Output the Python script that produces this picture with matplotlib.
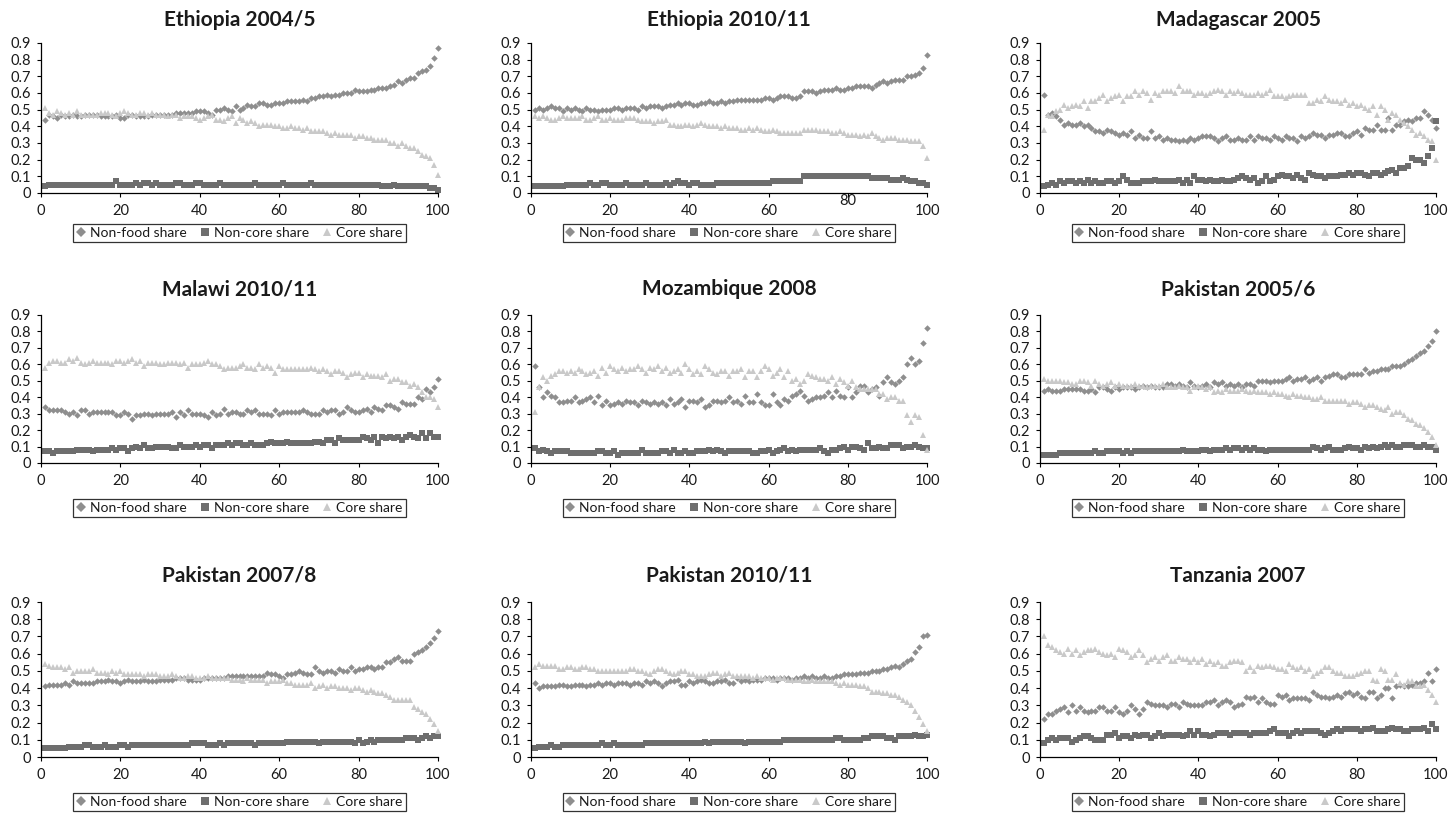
import numpy as np
import matplotlib
matplotlib.use("Agg")
import matplotlib.pyplot as plt
import matplotlib.transforms as mtransforms
from matplotlib.ticker import FuncFormatter, MultipleLocator

plt.rcParams['font.family'] = ['Lato', 'DejaVu Sans']

# expenditure shares (in %) by percentile 1..100
percentile = np.arange(1, 101)

eth04_nonfood = [44,47,46,45,47,46,46,47,46,46, 47,47,47,47,46,46,46,46,47,45,
                 45,47,47,46,46,46,46,47,47,47, 47,47,47,48,48,48,48,48,49,49,
                 49,48,47,50,50,51,50,49,52,50, 51,53,52,52,54,54,53,53,54,54,
                 54,55,55,55,55,56,55,57,57,58, 58,59,58,59,59,60,60,60,62,61,
                 61,61,62,62,63,63,63,64,65,67, 66,68,69,69,72,73,74,76,81,87]
eth04_noncore = [4,5,5,5,5,5,5,5,5,5, 5,5,5,5,5,5,5,5,7,5,
                 5,5,5,6,5,6,6,5,6,5, 5,5,5,6,6,5,5,5,6,6,
                 5,5,5,5,6,5,5,5,5,5, 5,5,5,6,5,5,5,5,5,5,
                 6,5,5,5,5,5,5,6,5,5, 5,5,5,5,5,5,5,5,5,5,
                 5,5,5,5,5,4,4,4,5,4, 4,4,4,4,4,4,4,3,3,2]
eth04_core = [51,48,47,49,48,47,48,47,49,47, 47,47,47,47,48,48,48,47,46,48,
              49,48,47,47,48,48,47,48,47,47, 47,46,47,47,45,46,46,46,45,44,
              45,46,47,44,44,43,45,46,42,45, 44,42,43,42,40,41,41,41,40,40,
              39,39,40,39,39,38,39,37,37,37, 37,36,35,36,35,35,35,35,33,34,
              34,33,33,32,32,32,32,30,30,28, 30,28,27,27,25,23,22,21,17,11]

eth10_nonfood = [50,51,50,51,52,51,51,49,51,50, 51,50,49,51,50,50,49,50,50,50,
                 51,51,50,51,51,51,50,52,51,52, 52,52,51,52,53,53,54,53,54,54,
                 53,53,54,54,55,54,54,55,54,55, 55,56,56,56,56,56,56,56,57,57,
                 56,57,58,58,58,57,57,58,61,61, 61,60,61,62,62,62,63,62,62,63,
                 63,64,64,64,64,63,65,66,67,66, 67,68,68,68,70,70,71,72,75,83]
eth10_noncore = [4,4,4,4,4,4,4,4,5,5, 5,5,5,5,6,5,5,6,6,5,
                 5,5,5,6,5,5,5,5,6,5, 5,5,5,6,5,6,7,6,6,5,
                 6,6,5,5,5,5,6,6,6,6, 6,6,6,6,6,6,6,6,6,6,
                 7,7,7,7,7,7,7,7,10,10, 10,10,10,10,10,10,10,10,10,10,
                 10,10,10,10,10,9,9,9,9,9, 8,8,8,9,8,7,7,6,6,5]
eth10_core = [46,45,46,45,44,44,45,46,45,45, 45,45,46,44,44,45,46,44,44,45,
              44,44,44,45,45,45,44,43,43,43, 42,43,43,44,41,41,40,40,41,41,
              40,41,42,41,40,40,40,39,40,39, 39,39,38,38,39,38,39,38,37,37,
              38,37,36,36,36,36,36,36,38,38, 38,38,37,37,37,36,36,37,36,35,
              35,35,34,35,34,36,34,33,32,33, 33,33,32,32,32,31,31,31,28,21]

mad05_nonfood = [59,47,48,46,44,41,42,41,41,42, 40,41,39,37,37,36,38,37,36,35,
                 36,35,37,33,35,33,33,37,33,34, 32,33,32,32,31,32,31,33,32,33,
                 34,34,34,33,31,33,34,32,32,33, 32,32,34,32,34,33,33,32,34,33,
                 32,34,33,33,31,34,33,34,36,35, 35,33,35,35,36,36,34,34,36,37,
                 35,39,38,38,41,38,38,45,38,41, 41,43,44,43,45,45,49,47,44,39]
mad05_noncore = [4,5,6,5,7,6,7,7,6,7, 6,8,6,7,6,6,7,7,6,7,
                 10,8,6,6,6,7,7,7,8,7, 7,7,7,7,8,6,8,6,10,8,
                 8,7,8,7,7,8,7,7,8,9, 10,9,8,9,6,7,10,7,8,10,
                 11,10,10,9,11,9,8,12,11,10, 10,9,10,10,10,11,11,12,11,12,
                 12,11,10,12,12,11,12,13,14,12, 15,15,16,21,20,20,18,22,27,43]
mad05_core = [38,47,46,49,50,53,51,52,53,52, 55,51,55,55,57,59,55,57,58,59,
              55,58,58,61,59,61,60,56,60,59, 61,61,61,60,64,61,61,61,59,60,
              60,59,60,61,62,61,59,61,60,61, 60,59,59,59,60,59,60,62,58,58,
              58,57,58,59,59,59,59,54,54,56, 55,58,56,55,55,54,56,53,54,52,
              53,51,50,52,47,52,50,44,48,47, 44,42,40,38,35,36,34,32,31,20]

mal10_nonfood = [34,32,32,32,32,31,30,31,29,32, 32,30,31,31,31,31,31,31,29,29,
                 31,30,27,29,29,30,30,29,30,30, 30,30,31,28,31,29,32,30,30,30,
                 29,28,31,29,30,33,30,31,31,30, 30,32,31,32,30,30,30,29,32,30,
                 31,31,31,31,31,32,31,30,30,30, 32,31,32,32,30,31,34,32,31,31,
                 32,33,31,34,33,32,35,35,34,33, 37,36,36,36,40,39,45,43,46,51]
mal10_noncore = [7,7,6,7,7,7,7,7,8,8, 8,8,7,8,8,8,8,9,8,9,
                 9,7,9,10,9,11,9,9,10,10, 10,10,9,9,11,10,10,10,11,10,
                 11,11,9,11,11,11,12,11,12,12, 11,11,12,11,11,11,12,13,12,12,
                 12,13,12,12,12,12,12,12,13,13, 12,14,14,12,15,14,14,14,14,14,
                 16,15,14,16,12,16,15,16,15,16, 14,16,17,16,15,18,15,18,16,16]
mal10_core = [58,61,62,62,61,61,63,62,64,61, 60,61,62,61,61,61,61,60,62,62,
              61,62,63,61,62,59,61,61,61,60, 60,61,61,61,60,61,58,60,60,60,
              61,62,60,60,59,57,58,58,58,59, 60,58,58,57,60,58,59,58,55,59,
              57,57,57,57,57,57,57,58,57,56, 57,56,54,56,56,55,52,54,55,55,
              52,54,53,53,53,52,54,50,51,51, 49,49,47,48,46,43,40,40,39,34]

moz08_nonfood = [59,46,40,43,41,40,37,37,38,38, 40,37,38,39,40,37,41,35,38,35,
                 36,37,36,38,37,37,35,38,37,36, 37,36,37,35,39,36,37,39,34,38,
                 38,37,39,34,35,38,38,37,38,40, 37,38,36,41,37,37,42,37,35,35,
                 42,37,35,39,38,41,42,44,41,38, 39,40,40,41,43,40,44,41,40,46,
                 40,43,47,47,43,45,46,41,49,52, 49,48,50,52,60,64,60,62,73,82]
moz08_noncore = [9,7,8,7,6,7,7,7,7,6, 6,6,6,6,6,6,7,7,6,6,
                 7,5,6,6,6,6,6,8,6,6, 6,6,7,7,6,8,6,6,7,6,
                 6,7,7,7,8,7,8,7,6,7, 7,7,7,7,7,6,6,7,7,8,
                 6,7,8,9,7,8,7,8,8,8, 8,8,9,7,6,8,8,9,10,8,
                 10,10,9,8,12,9,9,10,9,9, 11,11,11,9,10,10,11,10,9,9]
moz08_core = [31,46,52,50,53,54,56,56,55,56, 55,57,56,54,55,56,53,58,55,59,
              57,56,58,56,57,57,59,57,55,58, 57,59,56,58,55,56,57,55,60,57,
              54,56,54,59,57,55,54,56,56,53, 56,56,57,52,56,56,52,56,59,57,
              53,55,57,52,56,50,51,48,50,54, 53,52,51,51,50,52,48,51,49,47,
              50,46,45,45,45,45,45,42,42,39, 40,40,38,38,29,25,29,28,17,8]

pak05_nonfood = [44,45,44,44,44,45,45,45,45,45, 44,44,45,43,46,46,45,44,46,45,
                 46,46,46,45,46,47,46,47,46,46, 46,48,48,47,48,47,46,49,47,46,
                 47,48,46,49,48,49,47,48,47,48, 46,48,48,47,50,50,50,49,50,50,
                 50,51,52,50,51,51,52,50,51,52, 50,52,53,54,54,52,52,54,54,54,
                 54,57,55,56,56,57,57,57,59,59, 59,60,62,63,65,67,68,71,74,80]
pak05_noncore = [5,5,5,5,6,6,6,6,6,6, 6,6,6,7,6,6,7,7,7,7,
                 6,7,6,7,7,7,7,7,7,7, 7,7,7,7,7,8,7,7,7,7,
                 8,8,7,8,8,8,9,8,9,9, 8,9,8,9,8,8,7,8,8,8,
                 8,8,8,8,8,8,8,8,10,9, 8,9,10,8,8,8,9,10,9,9,
                 8,10,9,10,9,10,11,10,11,10, 10,11,11,11,10,10,11,10,10,8]
pak05_core = [51,50,50,50,50,49,49,48,48,50, 50,49,47,50,48,47,48,49,47,48,
              47,47,47,48,47,47,46,47,47,47, 48,46,46,46,47,46,46,44,46,47,
              46,45,46,43,44,43,45,44,44,44, 45,44,43,44,43,43,43,42,43,42,
              42,41,40,42,41,41,40,40,39,39, 40,38,38,38,38,38,38,36,37,37,
              36,34,35,35,34,33,32,34,30,31, 31,29,27,26,24,23,21,19,16,11]

pak07_nonfood = [41,42,42,42,42,43,42,44,43,43, 43,43,43,44,44,44,45,44,44,43,
                 44,45,44,44,44,45,44,44,44,45, 45,45,45,46,46,46,45,45,45,45,
                 46,46,46,46,46,46,47,47,47,47, 47,47,47,47,47,47,49,48,48,47,
                 46,48,48,49,50,49,48,48,52,50, 49,50,50,49,51,50,50,52,50,51,
                 51,52,52,51,52,52,55,55,57,58, 56,56,56,60,61,62,64,66,69,73]
pak07_noncore = [5,5,5,5,5,5,6,6,6,6, 7,7,6,6,6,7,6,6,6,7,
                 7,6,7,7,7,7,7,7,7,7, 7,7,7,7,7,7,7,8,8,8,
                 8,7,7,7,8,7,8,8,8,8, 8,8,8,7,8,8,8,8,8,8,
                 8,9,9,9,9,9,9,9,9,8, 9,9,9,9,9,9,9,9,8,10,
                 8,9,10,9,10,10,10,10,10,10, 10,11,11,11,10,11,12,11,12,12]
pak07_core = [54,53,52,52,52,51,52,49,50,50, 50,50,51,49,49,49,48,50,49,50,
              48,48,48,48,48,47,48,48,48,47, 47,47,48,47,46,46,47,47,46,46,
              46,47,46,46,46,46,46,45,45,45, 44,46,45,45,45,45,43,44,44,44,
              45,43,43,42,42,42,42,43,40,41, 42,40,41,41,40,40,40,39,40,40,
              39,38,39,38,37,37,36,35,33,33, 33,33,33,29,28,26,25,22,19,15]

pak10_nonfood = [43,40,41,41,41,41,42,42,41,41, 42,42,42,41,42,42,43,42,43,43,
                 42,43,43,43,42,43,43,42,44,43, 44,43,41,43,44,44,45,42,42,44,
                 43,44,45,44,43,43,44,44,45,43, 43,46,44,45,44,45,45,45,46,46,
                 46,45,46,46,46,45,46,46,47,46, 47,46,46,47,46,46,47,47,48,48,
                 48,48,49,49,49,50,50,50,51,51, 52,53,52,54,56,57,61,64,70,71]
pak10_noncore = [5,6,6,6,7,6,6,7,7,7, 7,7,7,7,7,7,7,8,7,7,
                 8,7,7,7,7,7,7,7,8,8, 8,8,8,8,8,8,8,8,8,8,
                 8,8,8,9,8,9,9,9,9,9, 9,9,9,8,9,9,9,9,9,9,
                 9,9,9,10,10,10,10,10,10,10, 10,10,10,10,10,10,11,11,10,10,
                 10,10,10,11,11,12,12,12,12,11, 11,10,12,12,12,12,13,12,12,13]
pak10_core = [52,54,53,53,53,53,51,51,52,52, 51,51,52,52,51,51,50,50,50,50,
              50,50,50,50,51,51,50,50,49,48, 50,51,51,50,49,48,49,50,50,48,
              48,47,47,47,48,49,49,47,48,49, 47,47,47,47,47,46,47,46,46,46,
              45,46,46,46,45,45,45,45,44,44, 45,44,44,44,44,44,43,42,43,42,
              42,42,41,41,40,38,38,38,37,37, 36,36,35,33,32,30,27,23,19,15]

tan07_nonfood = [22,25,25,27,28,29,26,30,27,29, 27,26,27,27,29,29,27,27,29,26,
                 25,27,30,28,25,28,32,31,30,30, 30,29,31,31,29,32,31,30,30,30,
                 30,32,32,33,30,32,33,32,29,30, 31,35,34,35,32,34,32,31,31,36,
                 35,36,33,34,34,34,34,33,38,36, 35,35,34,35,36,35,37,38,36,37,
                 35,34,38,38,34,36,40,40,34,41, 42,41,41,42,43,43,44,49,44,51]
tan07_noncore = [8,10,11,10,11,11,11,9,10,11, 12,12,11,10,10,10,13,13,14,11,
                 12,12,11,13,12,13,13,11,12,14, 12,13,13,13,13,12,13,15,13,15,
                 13,13,12,13,14,14,14,13,14,14, 14,14,13,14,14,14,14,15,16,14,
                 14,14,12,14,15,14,15,15,15,15, 14,13,14,15,16,15,16,16,16,16,
                 15,16,16,17,15,15,15,16,17,16, 16,15,15,16,16,16,17,15,19,16]
tan07_core = [70,65,64,62,61,60,63,60,62,59, 61,62,62,63,61,60,59,60,58,63,
              62,61,58,59,62,59,55,57,58,56, 58,59,56,56,58,57,57,55,57,55,
              57,54,56,54,55,53,53,55,56,56, 55,50,52,50,53,52,53,53,52,51,
              51,50,54,52,51,52,50,51,47,49, 50,52,52,50,49,49,47,47,47,48,
              49,50,50,45,44,51,50,45,45,48, 43,42,44,44,41,41,42,39,36,32]

titles = ['Ethiopia 2004/5', 'Ethiopia 2010/11', 'Madagascar 2005',
          'Malawi 2010/11', 'Mozambique 2008', 'Pakistan 2005/6',
          'Pakistan 2007/8', 'Pakistan 2010/11', 'Tanzania 2007']
nonfood = [eth04_nonfood, eth10_nonfood, mad05_nonfood, mal10_nonfood, moz08_nonfood,
           pak05_nonfood, pak07_nonfood, pak10_nonfood, tan07_nonfood]
noncore = [eth04_noncore, eth10_noncore, mad05_noncore, mal10_noncore, moz08_noncore,
           pak05_noncore, pak07_noncore, pak10_noncore, tan07_noncore]
core = [eth04_core, eth10_core, mad05_core, mal10_core, moz08_core,
        pak05_core, pak07_core, pak10_core, tan07_core]

W, H = 1451, 813
fig = plt.figure(figsize=(W / 100, H / 100), dpi=100)
fig.patch.set_facecolor('white')

# pixel layout: (left, right) per column, (top, bottom, title y, legend y) per row
cols = [(41, 438), (531, 927), (1040, 1436)]
rows = [(43, 193, 20, 233), (315, 463, 289, 508), (602, 757, 576, 802)]

c_nonfood = '#8e8e8e'
c_noncore = '#6e6e6e'
c_core = '#c9c9c9'

fmt = FuncFormatter(lambda v, p: '0' if abs(v) < 1e-9 else f'{v:.1f}')

for i, title in enumerate(titles):
    x0, x1 = cols[i % 3]
    top, bot, ty, ly = rows[i // 3]
    ax = fig.add_axes([x0 / W, 1 - bot / H, (x1 - x0) / W, (bot - top) / H])

    ax.plot(percentile, np.array(nonfood[i]) / 100, 'D', ms=3.3, color=c_nonfood,
            mew=0, label='Non-food share', clip_on=False)
    ax.plot(percentile, np.array(noncore[i]) / 100, 's', ms=4.3, color=c_noncore,
            mew=0, label='Non-core share', clip_on=False)
    ax.plot(percentile, np.array(core[i]) / 100, '^', ms=4.4, color=c_core,
            mew=0, label='Core share', clip_on=False)

    ax.set_xlim(0, 100)
    ax.set_ylim(0, 0.9)
    ax.xaxis.set_major_locator(MultipleLocator(20))
    ax.yaxis.set_major_locator(MultipleLocator(0.1))
    ax.yaxis.set_major_formatter(fmt)
    for side in ('top', 'right'):
        ax.spines[side].set_visible(False)
    for side in ('left', 'bottom'):
        ax.spines[side].set_linewidth(0.9)
    ax.tick_params(direction='out', length=3, width=0.8, labelsize=10.5, pad=4,
                   labelcolor='#1a1a1a')
    ax.tick_params(axis='x', pad=5)

    fig.text((x0 + x1) / 2 / W, 1 - ty / H, title, ha='center', va='center',
             fontsize=15, fontweight='bold', color='#1a1a1a')

    leg = ax.legend(loc='center', bbox_to_anchor=((x0 + x1) / 2 / W, 1 - ly / H),
                    bbox_transform=fig.transFigure, ncol=3, frameon=True,
                    fancybox=False, fontsize=10, handlelength=0.6,
                    handletextpad=0.35, columnspacing=1.0, borderpad=0.25,
                    markerscale=1.4)
    leg.get_frame().set_edgecolor('black')
    leg.get_frame().set_linewidth(0.9)
    for t in leg.get_texts():
        t.set_color('#1a1a1a')

    # the 80 label of the second panel sits a bit higher
    if i == 1:
        fig.canvas.draw()
        for lab in ax.get_xticklabels():
            if lab.get_text() == '80':
                lab.set_transform(lab.get_transform() + mtransforms.ScaledTranslation(
                    0, 7 / 72, fig.dpi_scale_trans))

fig.savefig('out.png', dpi=100, facecolor='white')
